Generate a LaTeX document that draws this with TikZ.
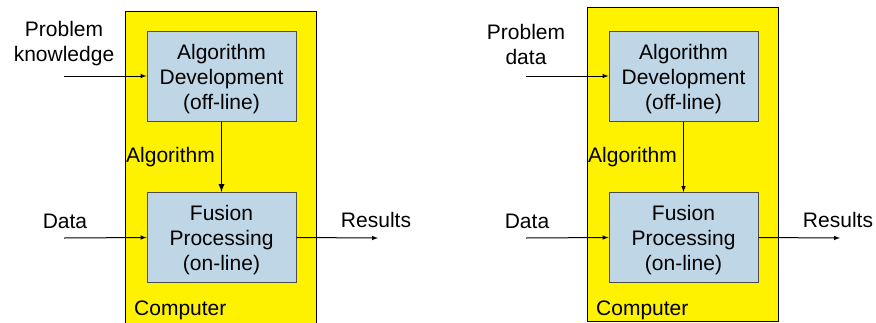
\documentclass[tikz,border=0pt]{standalone}
\usepackage{fontspec}
\setmainfont{Liberation Sans}
\usepackage{tikz}
\definecolor{boxblue}{RGB}{190,214,230}
\tikzset{%
    txt/.style={inner sep=0pt,align=center,font=\fontsize{21}{25}\selectfont},
    comp/.style={draw=black,line width=1pt,fill=yellow,minimum width=191pt,inner sep=0pt},
    proc/.style={draw=black!70,line width=1pt,fill=boxblue,minimum width=149pt,minimum height=90pt,inner sep=0pt},
    flow/.style={line width=1pt,-latex}
}

\begin{document}
\begin{tikzpicture}[x=1pt,y=-1pt]
        \useasboundingbox (0,0) rectangle (876,322);

        % left panel
        \node[comp,minimum height=314pt] (c1) at (220.5,168){};
        \node[proc] (alg1) at (221.5,76){};
        \node[txt] (alg1t) at ([yshift=-3pt]alg1.center){Algorithm\\Development\\(off-line)};
        \node[proc] (fus1) at (221.5,237.5){};
        \node[txt] (fus1t) at ([yshift=-3pt]fus1.center){Fusion\\Processing\\(on-line)};
        \node[txt] (pk1) at (64,44){Problem\\knowledge};
        \node[txt] (d1) at (65,221){Data};
        \node[txt] (r1) at (376,220){Results};
        \node[txt,anchor=west] (a1) at (126,157){Algorithm};
        \node[txt,anchor=west] (cl1) at (134,310){Computer};
        \coordinate (pin1) at (64,76);
        \coordinate (din1) at (64,238);
        \coordinate (rout1) at (378,238);
        \draw[flow] (pin1) -- (alg1.west);
        \draw[flow] (din1) -- (fus1.west);
        \draw[flow] (fus1.east) -- (rout1);
        \draw[flow,line width=1.7pt] (alg1) -- (fus1);

        % right panel
        \node[comp,minimum height=314pt] (c2) at (682.5,164){};
        \node[proc] (alg2) at (683.5,76){};
        \node[txt] (alg2t) at ([yshift=-3pt]alg2.center){Algorithm\\Development\\(off-line)};
        \node[proc] (fus2) at (683.5,237.5){};
        \node[txt] (fus2t) at ([yshift=-3pt]fus2.center){Fusion\\Processing\\(on-line)};
        \node[txt] (pk2) at (526,44){Problem\\data};
        \node[txt] (d2) at (527,221){Data};
        \node[txt] (r2) at (838,220){Results};
        \node[txt,anchor=west] (a2) at (588,157){Algorithm};
        \node[txt,anchor=west] (cl2) at (596,310){Computer};
        \coordinate (pin2) at (526,76);
        \coordinate (din2) at (526,238);
        \coordinate (rout2) at (840,238);
        \draw[flow] (pin2) -- (alg2.west);
        \draw[flow] (din2) -- (fus2.west);
        \draw[flow] (fus2.east) -- (rout2);
        \draw[flow] (alg2) -- (fus2);
    \end{tikzpicture}
\end{document}
